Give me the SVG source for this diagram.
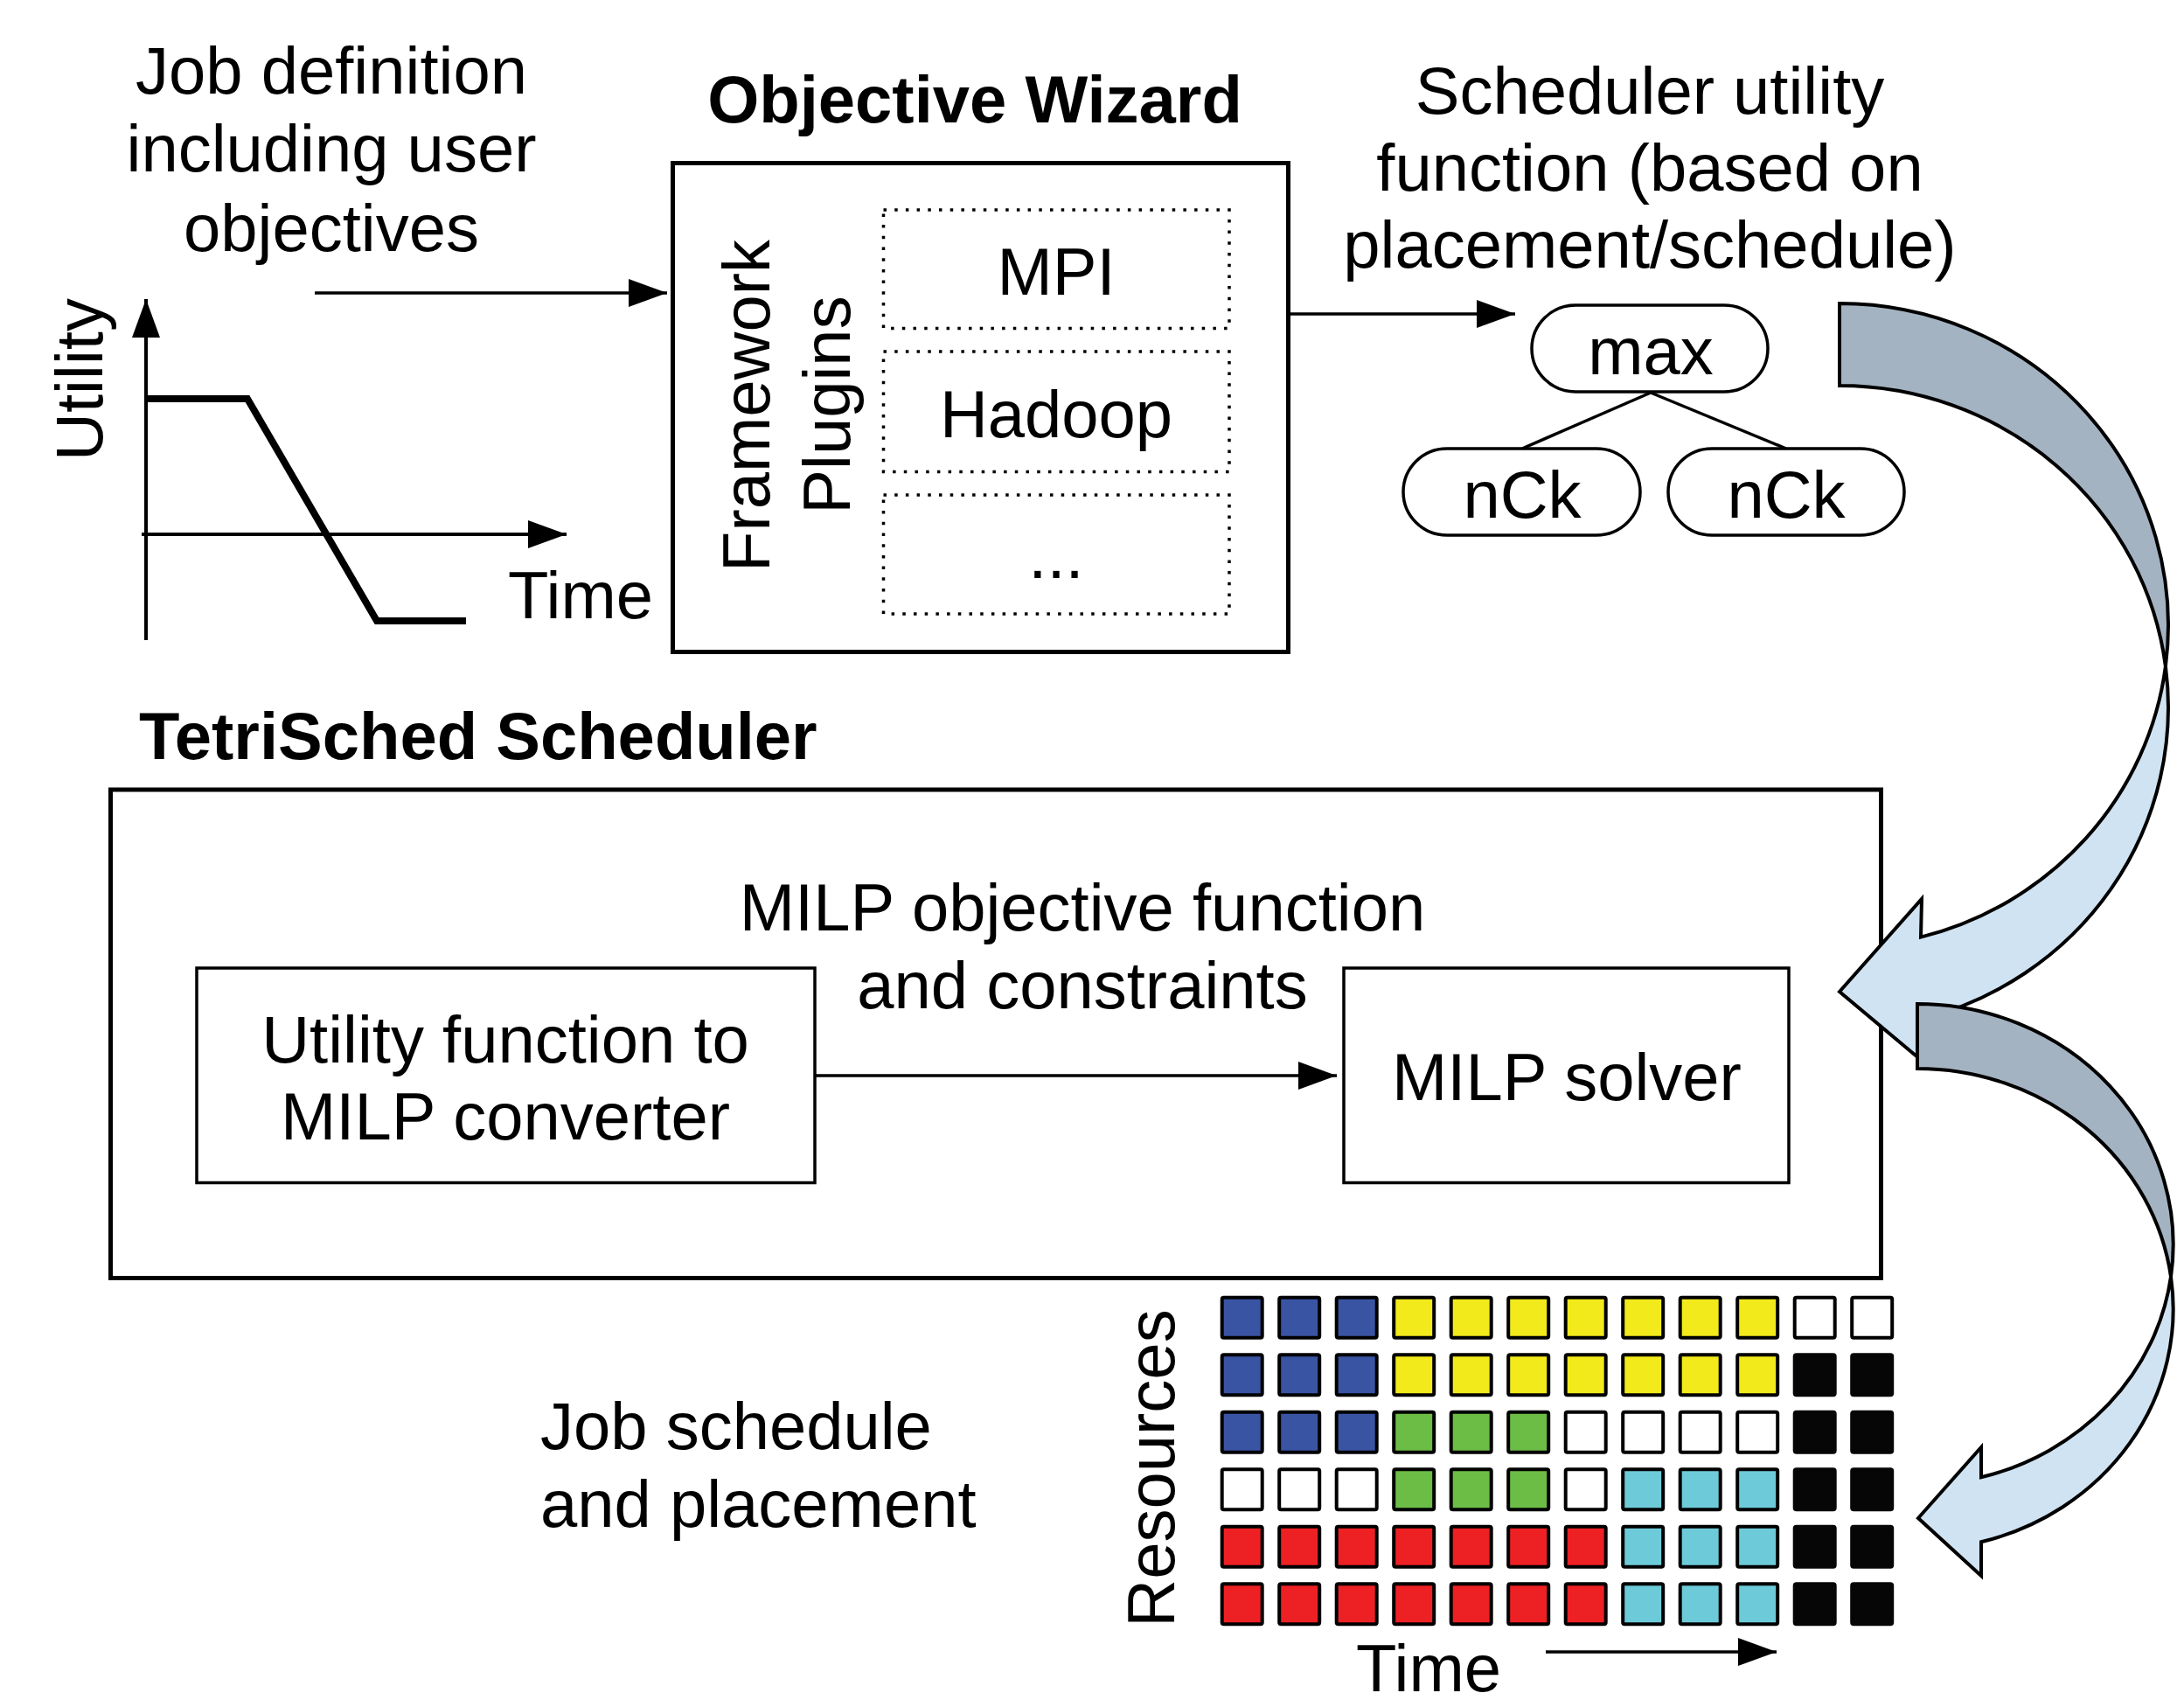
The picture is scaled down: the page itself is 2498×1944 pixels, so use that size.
<svg xmlns="http://www.w3.org/2000/svg" width="2498" height="1944" viewBox="0 0 2498 1944">
  <defs>
    <style>
      text { font-family: "Liberation Sans", Arial, sans-serif; font-size: 76px; fill: #000; }
      .bold { font-weight: bold; }
      .mid { text-anchor: middle; }
      .box { fill: #fff; stroke: #000; stroke-width: 5; }
      .thin { fill: #fff; stroke: #000; stroke-width: 3.5; }
      .dot { fill: none; stroke: #000; stroke-width: 3.5; stroke-dasharray: 3.5 9.2; }
      .pill { fill: #fff; stroke: #000; stroke-width: 3.5; }
      .line { fill: none; stroke: #000; stroke-width: 3.5; }
      .axis { fill: none; stroke: #000; stroke-width: 4; }
      .curve { fill: none; stroke: #000; stroke-width: 8; stroke-linejoin: miter; }
      .back { fill: #a4b3c1; stroke: #000; stroke-width: 4; stroke-linejoin: miter; }
      .front { fill: #d0e3f2; stroke: #000; stroke-width: 4; stroke-linejoin: miter; }
      .cell { stroke: #000; stroke-width: 4; }
      .cb { fill: #3a54a4; }
      .cy { fill: #f2ea1a; }
      .cg { fill: #6cbd45; }
      .cc { fill: #6dcbd9; }
      .cr { fill: #ed2024; }
      .ck { fill: #060606; stroke: #060606; }
      .cw { fill: #fff; }
    </style>
    <marker id="head" markerUnits="userSpaceOnUse" markerWidth="44" markerHeight="32" refX="44" refY="16" orient="auto">
      <path d="M0,0 L44,16 L0,32 z" fill="#000"/>
    </marker>
  </defs>

  <rect width="2498" height="1944" fill="#fff"/>

  <!-- job definition with its utility curve -->
  <g id="job-definition">
    <text class="mid" x="379" y="107">Job definition</text>
    <text class="mid" x="379" y="196">including user</text>
    <text class="mid" x="379" y="287">objectives</text>
  </g>
  <g id="utility-chart">
    <line class="axis" x1="167" y1="732" x2="167" y2="342" marker-end="url(#head)"/>
    <line class="axis" x1="162" y1="611" x2="648" y2="611" marker-end="url(#head)"/>
    <polyline class="curve" points="167,456 283,456 431,710 533,710"/>
    <text class="mid" transform="translate(117,434) rotate(-90)">Utility</text>
    <text x="581" y="707">Time</text>
  </g>

  <!-- objective wizard with framework plugins -->
  <g id="objective-wizard">
    <text class="bold mid" x="1115" y="140">Objective Wizard</text>
    <rect class="box" x="769.5" y="186.5" width="704" height="559"/>
    <text class="mid" transform="translate(880,464) rotate(-90)">Framework</text>
    <text class="mid" transform="translate(972,463) rotate(-90)">Plugins</text>
  </g>
  <g id="plugin-mpi">
    <rect class="dot" x="1010.5" y="240" width="395.5" height="135.5"/>
    <text class="mid" x="1208" y="337">MPI</text>
  </g>
  <g id="plugin-hadoop">
    <rect class="dot" x="1010.5" y="402" width="395.5" height="137.5"/>
    <text class="mid" x="1208" y="500">Hadoop</text>
  </g>
  <g id="plugin-more">
    <rect class="dot" x="1010.5" y="566" width="395.5" height="136"/>
    <text class="mid" x="1208" y="661">...</text>
  </g>

  <!-- scheduler utility function tree -->
  <g id="utility-function-label">
    <text class="mid" x="1887" y="130">Scheduler utility</text>
    <text class="mid" x="1887" y="218">function (based on</text>
    <text class="mid" x="1887" y="306">placement/schedule)</text>
  </g>
  <g id="node-max">
    <rect class="pill" x="1752" y="349" width="270" height="99" rx="50" ry="50"/>
    <text class="mid" x="1888" y="428">max</text>
  </g>
  <g id="node-nck-left">
    <rect class="pill" x="1605" y="513" width="271" height="99" rx="50" ry="50"/>
    <text class="mid" x="1741" y="592">nCk</text>
  </g>
  <g id="node-nck-right">
    <rect class="pill" x="1908" y="513" width="270" height="99" rx="50" ry="50"/>
    <text class="mid" x="2043" y="592">nCk</text>
  </g>

  <!-- TetriSched scheduler -->
  <g id="tetrisched">
    <text class="bold" x="159" y="868">TetriSched Scheduler</text>
    <rect class="box" x="126.5" y="903" width="2025" height="558.5"/>
    <text class="mid" x="1238" y="1064">MILP objective function</text>
    <text class="mid" x="1238" y="1153">and constraints</text>
  </g>
  <g id="converter">
    <rect class="thin" x="225" y="1107" width="707" height="245.5"/>
    <text class="mid" x="578" y="1215">Utility function to</text>
    <text class="mid" x="578" y="1303">MILP converter</text>
  </g>
  <g id="milp-solver">
    <rect class="thin" x="1537" y="1107" width="509" height="245.5"/>
    <text class="mid" x="1792" y="1258">MILP solver</text>
  </g>

  <!-- schedule grid: 12 time slots by 6 resources -->
  <g id="schedule">
    <text x="618" y="1657">Job schedule</text>
    <text x="618" y="1746">and placement</text>
    <text class="mid" transform="translate(1343,1679) rotate(-90)">Resources</text>
    <text class="mid" x="1634" y="1934">Time</text>
    <g id="grid">
      <!-- row 1 -->
      <rect class="cell cb" x="1397.7" y="1483.7" width="46" height="46" rx="2"/>
      <rect class="cell cb" x="1463.2" y="1483.7" width="46" height="46" rx="2"/>
      <rect class="cell cb" x="1528.7" y="1483.7" width="46" height="46" rx="2"/>
      <rect class="cell cy" x="1594.2" y="1483.7" width="46" height="46" rx="2"/>
      <rect class="cell cy" x="1659.7" y="1483.7" width="46" height="46" rx="2"/>
      <rect class="cell cy" x="1725.2" y="1483.7" width="46" height="46" rx="2"/>
      <rect class="cell cy" x="1790.7" y="1483.7" width="46" height="46" rx="2"/>
      <rect class="cell cy" x="1856.2" y="1483.7" width="46" height="46" rx="2"/>
      <rect class="cell cy" x="1921.7" y="1483.7" width="46" height="46" rx="2"/>
      <rect class="cell cy" x="1987.2" y="1483.7" width="46" height="46" rx="2"/>
      <rect class="cell cw" x="2052.7" y="1483.7" width="46" height="46" rx="2"/>
      <rect class="cell cw" x="2118.2" y="1483.7" width="46" height="46" rx="2"/>
      <!-- row 2 -->
      <rect class="cell cb" x="1397.7" y="1549.2" width="46" height="46" rx="2"/>
      <rect class="cell cb" x="1463.2" y="1549.2" width="46" height="46" rx="2"/>
      <rect class="cell cb" x="1528.7" y="1549.2" width="46" height="46" rx="2"/>
      <rect class="cell cy" x="1594.2" y="1549.2" width="46" height="46" rx="2"/>
      <rect class="cell cy" x="1659.7" y="1549.2" width="46" height="46" rx="2"/>
      <rect class="cell cy" x="1725.2" y="1549.2" width="46" height="46" rx="2"/>
      <rect class="cell cy" x="1790.7" y="1549.2" width="46" height="46" rx="2"/>
      <rect class="cell cy" x="1856.2" y="1549.2" width="46" height="46" rx="2"/>
      <rect class="cell cy" x="1921.7" y="1549.2" width="46" height="46" rx="2"/>
      <rect class="cell cy" x="1987.2" y="1549.2" width="46" height="46" rx="2"/>
      <rect class="cell ck" x="2052.7" y="1549.2" width="46" height="46" rx="2"/>
      <rect class="cell ck" x="2118.2" y="1549.2" width="46" height="46" rx="2"/>
      <!-- row 3 -->
      <rect class="cell cb" x="1397.7" y="1614.7" width="46" height="46" rx="2"/>
      <rect class="cell cb" x="1463.2" y="1614.7" width="46" height="46" rx="2"/>
      <rect class="cell cb" x="1528.7" y="1614.7" width="46" height="46" rx="2"/>
      <rect class="cell cg" x="1594.2" y="1614.7" width="46" height="46" rx="2"/>
      <rect class="cell cg" x="1659.7" y="1614.7" width="46" height="46" rx="2"/>
      <rect class="cell cg" x="1725.2" y="1614.7" width="46" height="46" rx="2"/>
      <rect class="cell cw" x="1790.7" y="1614.7" width="46" height="46" rx="2"/>
      <rect class="cell cw" x="1856.2" y="1614.7" width="46" height="46" rx="2"/>
      <rect class="cell cw" x="1921.7" y="1614.7" width="46" height="46" rx="2"/>
      <rect class="cell cw" x="1987.2" y="1614.7" width="46" height="46" rx="2"/>
      <rect class="cell ck" x="2052.7" y="1614.7" width="46" height="46" rx="2"/>
      <rect class="cell ck" x="2118.2" y="1614.7" width="46" height="46" rx="2"/>
      <!-- row 4 -->
      <rect class="cell cw" x="1397.7" y="1680.2" width="46" height="46" rx="2"/>
      <rect class="cell cw" x="1463.2" y="1680.2" width="46" height="46" rx="2"/>
      <rect class="cell cw" x="1528.7" y="1680.2" width="46" height="46" rx="2"/>
      <rect class="cell cg" x="1594.2" y="1680.2" width="46" height="46" rx="2"/>
      <rect class="cell cg" x="1659.7" y="1680.2" width="46" height="46" rx="2"/>
      <rect class="cell cg" x="1725.2" y="1680.2" width="46" height="46" rx="2"/>
      <rect class="cell cw" x="1790.7" y="1680.2" width="46" height="46" rx="2"/>
      <rect class="cell cc" x="1856.2" y="1680.2" width="46" height="46" rx="2"/>
      <rect class="cell cc" x="1921.7" y="1680.2" width="46" height="46" rx="2"/>
      <rect class="cell cc" x="1987.2" y="1680.2" width="46" height="46" rx="2"/>
      <rect class="cell ck" x="2052.7" y="1680.2" width="46" height="46" rx="2"/>
      <rect class="cell ck" x="2118.2" y="1680.2" width="46" height="46" rx="2"/>
      <!-- row 5 -->
      <rect class="cell cr" x="1397.7" y="1745.7" width="46" height="46" rx="2"/>
      <rect class="cell cr" x="1463.2" y="1745.7" width="46" height="46" rx="2"/>
      <rect class="cell cr" x="1528.7" y="1745.7" width="46" height="46" rx="2"/>
      <rect class="cell cr" x="1594.2" y="1745.7" width="46" height="46" rx="2"/>
      <rect class="cell cr" x="1659.7" y="1745.7" width="46" height="46" rx="2"/>
      <rect class="cell cr" x="1725.2" y="1745.7" width="46" height="46" rx="2"/>
      <rect class="cell cr" x="1790.7" y="1745.7" width="46" height="46" rx="2"/>
      <rect class="cell cc" x="1856.2" y="1745.7" width="46" height="46" rx="2"/>
      <rect class="cell cc" x="1921.7" y="1745.7" width="46" height="46" rx="2"/>
      <rect class="cell cc" x="1987.2" y="1745.7" width="46" height="46" rx="2"/>
      <rect class="cell ck" x="2052.7" y="1745.7" width="46" height="46" rx="2"/>
      <rect class="cell ck" x="2118.2" y="1745.7" width="46" height="46" rx="2"/>
      <!-- row 6 -->
      <rect class="cell cr" x="1397.7" y="1811.2" width="46" height="46" rx="2"/>
      <rect class="cell cr" x="1463.2" y="1811.2" width="46" height="46" rx="2"/>
      <rect class="cell cr" x="1528.7" y="1811.2" width="46" height="46" rx="2"/>
      <rect class="cell cr" x="1594.2" y="1811.2" width="46" height="46" rx="2"/>
      <rect class="cell cr" x="1659.7" y="1811.2" width="46" height="46" rx="2"/>
      <rect class="cell cr" x="1725.2" y="1811.2" width="46" height="46" rx="2"/>
      <rect class="cell cr" x="1790.7" y="1811.2" width="46" height="46" rx="2"/>
      <rect class="cell cc" x="1856.2" y="1811.2" width="46" height="46" rx="2"/>
      <rect class="cell cc" x="1921.7" y="1811.2" width="46" height="46" rx="2"/>
      <rect class="cell cc" x="1987.2" y="1811.2" width="46" height="46" rx="2"/>
      <rect class="cell ck" x="2052.7" y="1811.2" width="46" height="46" rx="2"/>
      <rect class="cell ck" x="2118.2" y="1811.2" width="46" height="46" rx="2"/>
    </g>
  </g>

  <!-- connectors -->
  <g id="connectors">
    <line class="line" x1="360" y1="335" x2="763" y2="335" marker-end="url(#head)"/>
    <line class="line" x1="1474" y1="359" x2="1733" y2="359" marker-end="url(#head)"/>
    <line class="line" x1="1888" y1="449" x2="1741" y2="513"/>
    <line class="line" x1="1888" y1="449" x2="2043" y2="513"/>
    <line class="line" x1="932" y1="1230" x2="1529" y2="1230" marker-end="url(#head)"/>
    <line class="line" x1="1768" y1="1889" x2="2032" y2="1889" marker-end="url(#head)"/>

    <!-- curved arrow: utility function into the scheduler -->
    <g id="curved-arrow-in">
      <path class="back" d="M2104,347 A376,368 0 0 1 2476.9,762 A376,368 0 0 0 2104,441 Z"/>
      <path class="front" d="M2476.9,762 A376,368 0 0 1 2197,1071.6 L2198,1028 L2104,1134 L2197,1212 L2197,1165.6 A376,368 0 0 0 2476.9,762 Z"/>
    </g>
    <!-- curved arrow: solver output into the schedule -->
    <g id="curved-arrow-out">
      <path class="back" d="M2193,1148 A292.7,275 0 0 1 2483,1460 A292.7,275 0 0 0 2193,1222 Z"/>
      <path class="front" d="M2483,1460 A292.7,275 0 0 1 2266,1689.3 L2266,1655 L2194,1736 L2266,1802 L2266,1763.3 A292.7,275 0 0 0 2483,1460 Z"/>
    </g>
  </g>
</svg>
